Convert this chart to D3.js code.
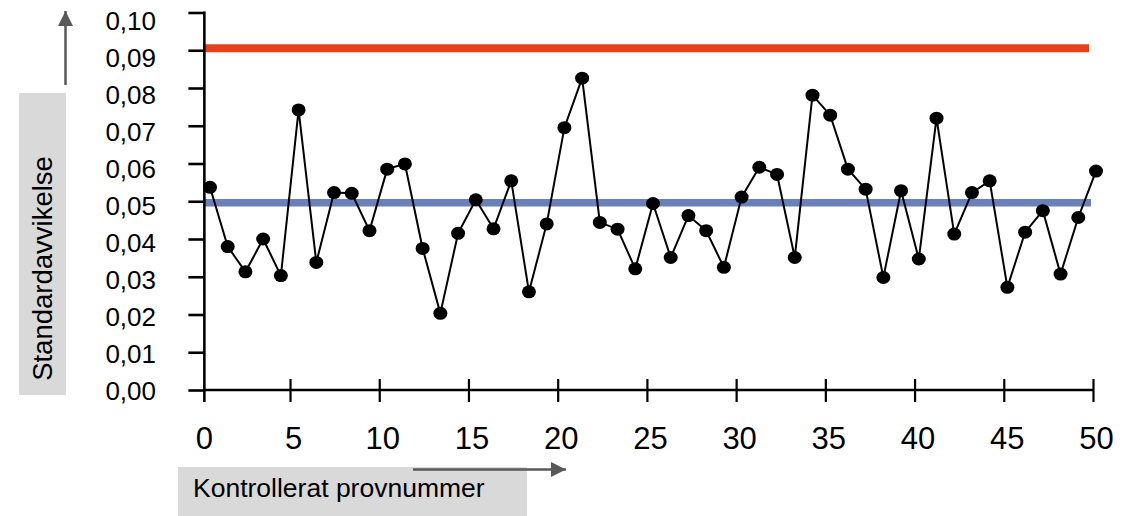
<!DOCTYPE html>
<html>
<head>
<meta charset="utf-8">
<script src="https://cdn.jsdelivr.net/npm/d3@7"></script>
<style>
  html, body { margin: 0; padding: 0; background: #fff; }
  svg { display: block; font-family: "Liberation Sans", Arial, sans-serif; }
</style>
</head>
<body>
<svg id="chart" width="1141" height="516"></svg>
<script>
// Sample numbers (x) and measured standard deviation per sample (y)
const sampleNumbers = d3.range(0, 51);
const stdDeviation = [
  0.0537, 0.0380, 0.0313, 0.0400, 0.0303, 0.0742, 0.0338, 0.0523, 0.0521, 0.0422,
  0.0585, 0.0599, 0.0375, 0.0203, 0.0415, 0.0504, 0.0427, 0.0554, 0.0260, 0.0440,
  0.0695, 0.0826, 0.0444, 0.0426, 0.0321, 0.0494, 0.0351, 0.0462, 0.0422, 0.0325,
  0.0511, 0.0590, 0.0571, 0.0351, 0.0781, 0.0728, 0.0585, 0.0532, 0.0298, 0.0528,
  0.0347, 0.0720, 0.0413, 0.0523, 0.0554, 0.0272, 0.0418, 0.0475, 0.0307, 0.0457,
  0.0580
];

// Control limits
const upperLimit = [0.0905];
const centerLine = [0.0496];

// Tick values
const yTickValues = [0, 0.01, 0.02, 0.03, 0.04, 0.05, 0.06, 0.07, 0.08, 0.09, 0.10];
const xTickValues = [0, 5, 10, 15, 20, 25, 30, 35, 40, 45, 50];

const yTitle = "Standardavvikelse";
const xTitle = "Kontrollerat provnummer";

const svg = d3.select("#chart");

const y = d3.scaleLinear().domain([0, 0.1]).range([390, 12.5]);
const yLabelPos = d3.scaleLinear().domain([0, 0.1]).range([391, 20.8]);
const xTick = d3.scaleLinear().domain([0, 50]).range([200.8, 1093]);
const xSample = d3.scaleLinear().domain([0, 50]).range([210, 1096]);

const axisX = xTick(0.2);
const fmt = d3.formatLocale({ decimal: ",", thousands: " ", grouping: [3], currency: ["", " kr"] }).format(".2f");

const ink = "#000";
const gray = "#d9d9d9";
const arrowGray = "#595959";

// Axis title boxes
svg.append("rect").attr("x", 19).attr("y", 93).attr("width", 47).attr("height", 302).attr("fill", gray);
svg.append("text")
  .attr("transform", `translate(${52}, ${268.5}) rotate(-90)`)
  .attr("text-anchor", "middle")
  .attr("font-size", 27.5)
  .attr("fill", "#000")
  .text(yTitle);

svg.append("rect").attr("x", 178).attr("y", 467).attr("width", 349).attr("height", 49).attr("fill", gray);
svg.append("text")
  .attr("x", 193).attr("y", 497)
  .attr("font-size", 26.5)
  .attr("fill", "#000")
  .text(xTitle);

// Direction arrows
const defs = svg.append("defs");
defs.append("marker")
  .attr("id", "head")
  .attr("viewBox", "0 0 10 10")
  .attr("refX", 10).attr("refY", 5)
  .attr("markerUnits", "userSpaceOnUse")
  .attr("markerWidth", 15).attr("markerHeight", 15)
  .attr("orient", "auto")
  .append("path").attr("d", "M0,0 L10,5 L0,10 Z").attr("fill", arrowGray);

svg.append("line")
  .attr("x1", 65.5).attr("y1", 85).attr("x2", 65.5).attr("y2", 11)
  .attr("stroke", arrowGray).attr("stroke-width", 2.5)
  .attr("marker-end", "url(#head)");
svg.append("line")
  .attr("x1", 413).attr("y1", 469.5).attr("x2", 566).attr("y2", 469.5)
  .attr("stroke", arrowGray).attr("stroke-width", 2.5)
  .attr("marker-end", "url(#head)");

// Center line and upper control limit
svg.selectAll("line.center").data(centerLine).join("line")
  .attr("class", "center")
  .attr("x1", axisX).attr("x2", xTick(50) - 2)
  .attr("y1", d => y(d)).attr("y2", d => y(d))
  .attr("stroke", "#6a80b8").attr("stroke-width", 7.5);

svg.selectAll("line.ucl").data(upperLimit).join("line")
  .attr("class", "ucl")
  .attr("x1", axisX).attr("x2", xTick(50) - 4)
  .attr("y1", d => y(d)).attr("y2", d => y(d))
  .attr("stroke", "#e8401a").attr("stroke-width", 8);

// Y axis
const gy = svg.append("g").attr("transform", `translate(${axisX},0)`)
  .call(d3.axisLeft(y).tickValues(yTickValues).tickSize(16).tickFormat(""));
gy.select(".domain").remove();
gy.selectAll(".tick line").attr("stroke", ink).attr("stroke-width", 2.6);
gy.append("line")
  .attr("x1", 0).attr("x2", 0)
  .attr("y1", y(0.1) - 1).attr("y2", y(0) + 12)
  .attr("stroke", ink).attr("stroke-width", 2.6);

svg.append("g").selectAll("text").data(yTickValues).join("text")
  .attr("x", 156)
  .attr("y", d => yLabelPos(d))
  .attr("dy", "0.358em")
  .attr("text-anchor", "end")
  .attr("font-size", 26)
  .attr("fill", "#000")
  .text(d => fmt(d));

// X axis
const gx = svg.append("g").attr("transform", `translate(0,${y(0)})`)
  .call(d3.axisBottom(xTick).tickValues(xTickValues.filter(v => v > 0)).tickSize(12).tickFormat(""));
gx.select(".domain").remove();
gx.selectAll(".tick line").attr("y1", -11).attr("y2", 12).attr("stroke", ink).attr("stroke-width", 2.2);
gx.append("line")
  .attr("x1", axisX).attr("x2", xTick(50) + 1)
  .attr("y1", 0).attr("y2", 0)
  .attr("stroke", ink).attr("stroke-width", 2.6);

svg.append("g").selectAll("text").data(xTickValues).join("text")
  .attr("x", d => xTick(d) + 3.5)
  .attr("y", 449)
  .attr("text-anchor", "middle")
  .attr("font-size", 31)
  .attr("fill", "#000")
  .text(d => d);

// Data series
const line = d3.line()
  .x((d, i) => xSample(sampleNumbers[i]))
  .y(d => y(d));

svg.append("path")
  .datum(stdDeviation)
  .attr("d", line)
  .attr("fill", "none")
  .attr("stroke", ink)
  .attr("stroke-width", 2);

svg.append("g").selectAll("ellipse").data(stdDeviation).join("ellipse")
  .attr("cx", (d, i) => xSample(sampleNumbers[i]))
  .attr("cy", d => y(d))
  .attr("rx", 7).attr("ry", 6.5)
  .attr("fill", ink);
</script>
</body>
</html>
